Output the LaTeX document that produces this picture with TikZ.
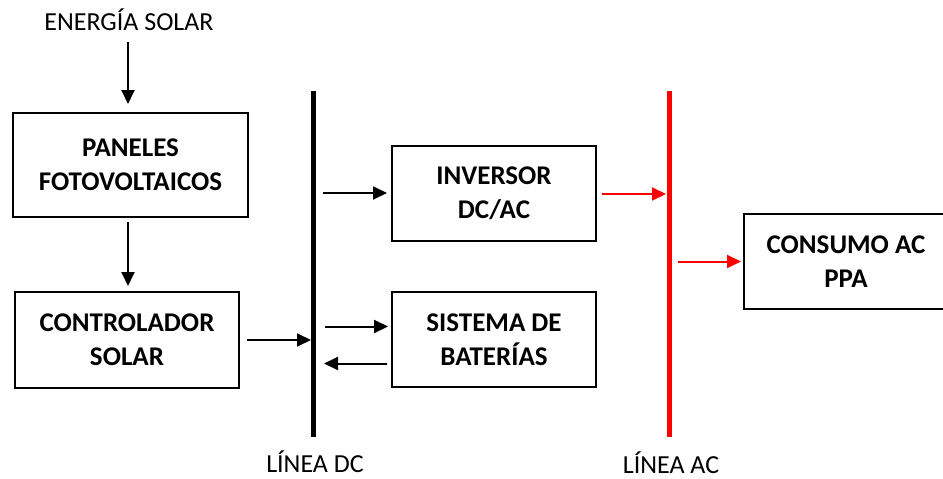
\documentclass[tikz,border=0pt]{standalone}
\usepackage{fontspec}
\setmainfont{Carlito}
\usetikzlibrary{arrows.meta}
\definecolor{acred}{RGB}{255,0,0}
\begin{document}
\begin{tikzpicture}[x=1pt,y=-1pt,
  box/.style={draw=black,line width=1.4pt,font=\fontsize{27}{34}\selectfont\bfseries,align=center,inner sep=0pt},
  arr/.style={line width=2pt,-{Triangle[length=14pt,width=13pt]}},
  redarr/.style={arr,draw=acred,fill=acred},
  lbl/.style={font=\fontsize{26}{28}\selectfont,inner sep=0pt}]
\useasboundingbox (0,0) rectangle (943,479);
\node[lbl] (sol) at (129,20) {ENERGÍA SOLAR};
\node[box,minimum width=235pt,minimum height=104pt] (pan) at (130.5,165) {PANELES\\FOTOVOLTAICOS};
\node[box,minimum width=224pt,minimum height=96pt] (ctl) at (127,340) {CONTROLADOR\\SOLAR};
\node[box,minimum width=204pt,minimum height=95pt] (inv) at (494,193.5) {INVERSOR\\DC/AC};
\node[box,minimum width=204pt,minimum height=95pt] (bat) at (494,339.5) {SISTEMA DE\\BATERÍAS};
\node[box,minimum width=204pt,minimum height=95pt] (con) at (846,261.5) {CONSUMO AC\\PPA};
\coordinate (dct) at (313,91);
\coordinate (dcb) at (313,437);
\coordinate (act) at (669,91);
\coordinate (acb) at (669,437);
\draw[line width=5pt] (dct) -- (dcb);
\draw[line width=5pt,draw=acred] (act) -- (acb);
\node[lbl] (ldc) at (315,462) {LÍNEA DC};
\node[lbl] (lac) at (671,463) {LÍNEA AC};
\coordinate (s1) at (128,42);
\coordinate (s2) at (128,104);
\draw[arr] (s1) -- (s2);
\coordinate (p1) at (128,222);
\coordinate (p2) at (128,286);
\draw[arr] (p1) -- (p2);
\coordinate (c1) at (247,340);
\coordinate (c2) at (311,340);
\draw[arr] (c1) -- (c2);
\coordinate (i1) at (323,193);
\coordinate (i2) at (387,193);
\draw[arr] (i1) -- (i2);
\coordinate (b1) at (325,326.5);
\coordinate (b2) at (388,326.5);
\draw[arr] (b1) -- (b2);
\coordinate (b3) at (387,363.5);
\coordinate (b4) at (324,363.5);
\draw[arr] (b3) -- (b4);
\coordinate (r1) at (602,194);
\coordinate (r2) at (666,194);
\draw[redarr] (r1) -- (r2);
\coordinate (r3) at (678,261.5);
\coordinate (r4) at (741,261.5);
\draw[redarr] (r3) -- (r4);
\end{tikzpicture}
\end{document}
